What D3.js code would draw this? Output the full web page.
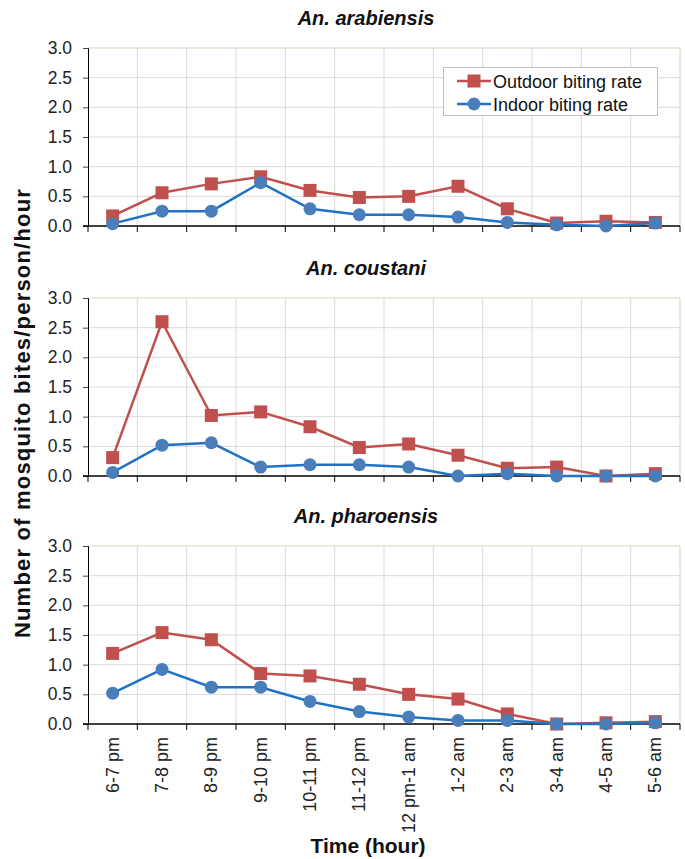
<!DOCTYPE html>
<html><head><meta charset="utf-8">
<script src="https://cdn.jsdelivr.net/npm/d3@7"></script>
<style>body{margin:0;background:#fff}svg{display:block}text{font-family:"Liberation Sans",Arial,sans-serif}</style>
</head><body>
<script>
const categories = ["6-7 pm","7-8 pm","8-9 pm","9-10 pm","10-11 pm","11-12 pm","12 pm-1 am","1-2 am","2-3 am","3-4 am","4-5 am","5-6 am"];
const panelTitles = ["An. arabiensis","An. coustani","An. pharoensis"];
const outdoorArabiensis = [0.17,0.56,0.71,0.83,0.60,0.48,0.50,0.67,0.29,0.05,0.08,0.06];
const indoorArabiensis  = [0.04,0.25,0.25,0.73,0.29,0.19,0.19,0.15,0.06,0.02,0.00,0.05];
const outdoorCoustani   = [0.31,2.60,1.02,1.08,0.83,0.48,0.54,0.35,0.13,0.15,0.00,0.04];
const indoorCoustani    = [0.06,0.52,0.56,0.15,0.19,0.19,0.15,0.00,0.04,0.00,0.00,0.00];
const outdoorPharoensis = [1.19,1.54,1.42,0.85,0.81,0.67,0.50,0.42,0.17,0.00,0.02,0.04];
const indoorPharoensis  = [0.52,0.92,0.62,0.62,0.38,0.21,0.12,0.06,0.06,0.00,0.00,0.02];
const yTicks = [0,0.5,1.0,1.5,2.0,2.5,3.0];
const seriesNames = ["Outdoor biting rate","Indoor biting rate"];

const panels = [
  {title: panelTitles[0], outdoor: outdoorArabiensis, indoor: indoorArabiensis},
  {title: panelTitles[1], outdoor: outdoorCoustani, indoor: indoorCoustani},
  {title: panelTitles[2], outdoor: outdoorPharoensis, indoor: indoorPharoensis}
];

const W = 685, H = 859;
const svg = d3.select("body").append("svg").attr("width", W).attr("height", H);
const left = 88, right = 680;
const tops = [48, 298, 546], ph = 178;
const red = "#c0504d", blue = "#1f72c4", blueM = "#4a7ebb";

const x = d3.scaleBand().domain(categories).range([left, right]);
const xc = d => x(d) + x.bandwidth()/2;

panels.forEach((p, i) => {
  const top = tops[i], bottom = top + ph;
  const y = d3.scaleLinear().domain([0, 3]).range([bottom, top]);
  const g = svg.append("g");
  g.selectAll(".hg").data(yTicks.filter(t => t > 0)).enter().append("line")
    .attr("x1", left).attr("x2", right).attr("y1", d => y(d)).attr("y2", d => y(d))
    .attr("stroke", d => d === 3 ? "#d8d5bc" : "#d9d9d9").attr("stroke-width", 1);
  g.selectAll(".vg").data(categories.slice(1)).enter().append("line")
    .attr("x1", d => x(d)).attr("x2", d => x(d)).attr("y1", top).attr("y2", bottom)
    .attr("stroke", "#d9d9d9").attr("stroke-width", 1);
  g.append("line").attr("x1", right).attr("x2", right).attr("y1", top).attr("y2", bottom)
    .attr("stroke", "#d8d5bc");
  const ya = g.append("g").attr("transform", `translate(${left},0)`)
    .call(d3.axisLeft(y).tickValues(yTicks).tickFormat(d3.format(".1f")).tickSize(5).tickPadding(11));
  ya.select(".domain").attr("stroke", "#000");
  ya.selectAll(".tick line").attr("stroke", "#444");
  ya.selectAll("text").attr("font-size", 17.5).attr("fill", "#222").attr("font-family", "Liberation Sans, Arial, sans-serif");
  const xa = g.append("g").attr("transform", `translate(0,${bottom})`);
  xa.append("line").attr("x1", left-5).attr("x2", right).attr("y1", 0).attr("y2", 0).attr("stroke", "#000").attr("stroke-width", 1.5);
  xa.selectAll(".xt").data(categories.map(c => x(c)).concat([right])).enter().append("line")
    .attr("x1", d => d).attr("x2", d => d).attr("y1", 0).attr("y2", 6).attr("stroke", "#000");
  svg.append("text").attr("x", 366).attr("y", top - 23).attr("text-anchor", "middle")
    .attr("font-size", 20).attr("font-weight", "bold").attr("font-style", "italic").attr("fill", "#111").text(p.title);
  const line = d3.line().x((d, j) => xc(categories[j])).y(d => y(d));
  g.append("path").datum(p.outdoor).attr("d", line).attr("fill", "none").attr("stroke", red).attr("stroke-width", 2.5);
  g.append("path").datum(p.indoor).attr("d", line).attr("fill", "none").attr("stroke", blue).attr("stroke-width", 2.5);
  g.selectAll(".sq").data(p.outdoor).enter().append("rect")
    .attr("x", (d, j) => xc(categories[j]) - 6.5).attr("y", d => y(d) - 6.5).attr("width", 13).attr("height", 13).attr("fill", red);
  g.selectAll(".ci").data(p.indoor).enter().append("circle")
    .attr("cx", (d, j) => xc(categories[j])).attr("cy", d => y(d)).attr("r", 6.5).attr("fill", blueM);
  if (i === 2) {
    svg.append("g").selectAll("text").data(categories).enter().append("text")
      .attr("transform", d => `translate(${xc(d)+6},${bottom+13}) rotate(-90)`)
      .attr("text-anchor", "end").attr("font-size", 18).attr("fill", "#222").text(d => d);
  }
});

const lg = svg.append("g");
lg.append("rect").attr("x", 443.5).attr("y", 67.5).attr("width", 214).attr("height", 48)
  .attr("fill", "#fff").attr("stroke", "#bfbfbf");
[[red, "sq", 81], [blue, "ci", 104]].forEach(([c, m, yy], k) => {
  lg.append("line").attr("x1", 457).attr("x2", 491).attr("y1", yy).attr("y2", yy).attr("stroke", c).attr("stroke-width", 2.5);
  if (m === "sq") lg.append("rect").attr("x", 467.5).attr("y", yy-6.5).attr("width", 13).attr("height", 13).attr("fill", red);
  else lg.append("circle").attr("cx", 474).attr("cy", yy).attr("r", 6.5).attr("fill", blueM);
  lg.append("text").attr("x", 493).attr("y", yy + 6.5).attr("font-size", 18).attr("fill", "#111").text(seriesNames[k]);
});

svg.append("text").attr("transform", `translate(30,413) rotate(-90)`).attr("text-anchor", "middle")
  .attr("font-size", 22).attr("font-weight", "bold").attr("letter-spacing", 1.2).attr("fill", "#111").text("Number of mosquito bites/person/hour");
svg.append("text").attr("x", 368).attr("y", 853).attr("text-anchor", "middle")
  .attr("font-size", 21).attr("font-weight", "bold").attr("fill", "#111").text("Time (hour)");
</script>
</body></html>
